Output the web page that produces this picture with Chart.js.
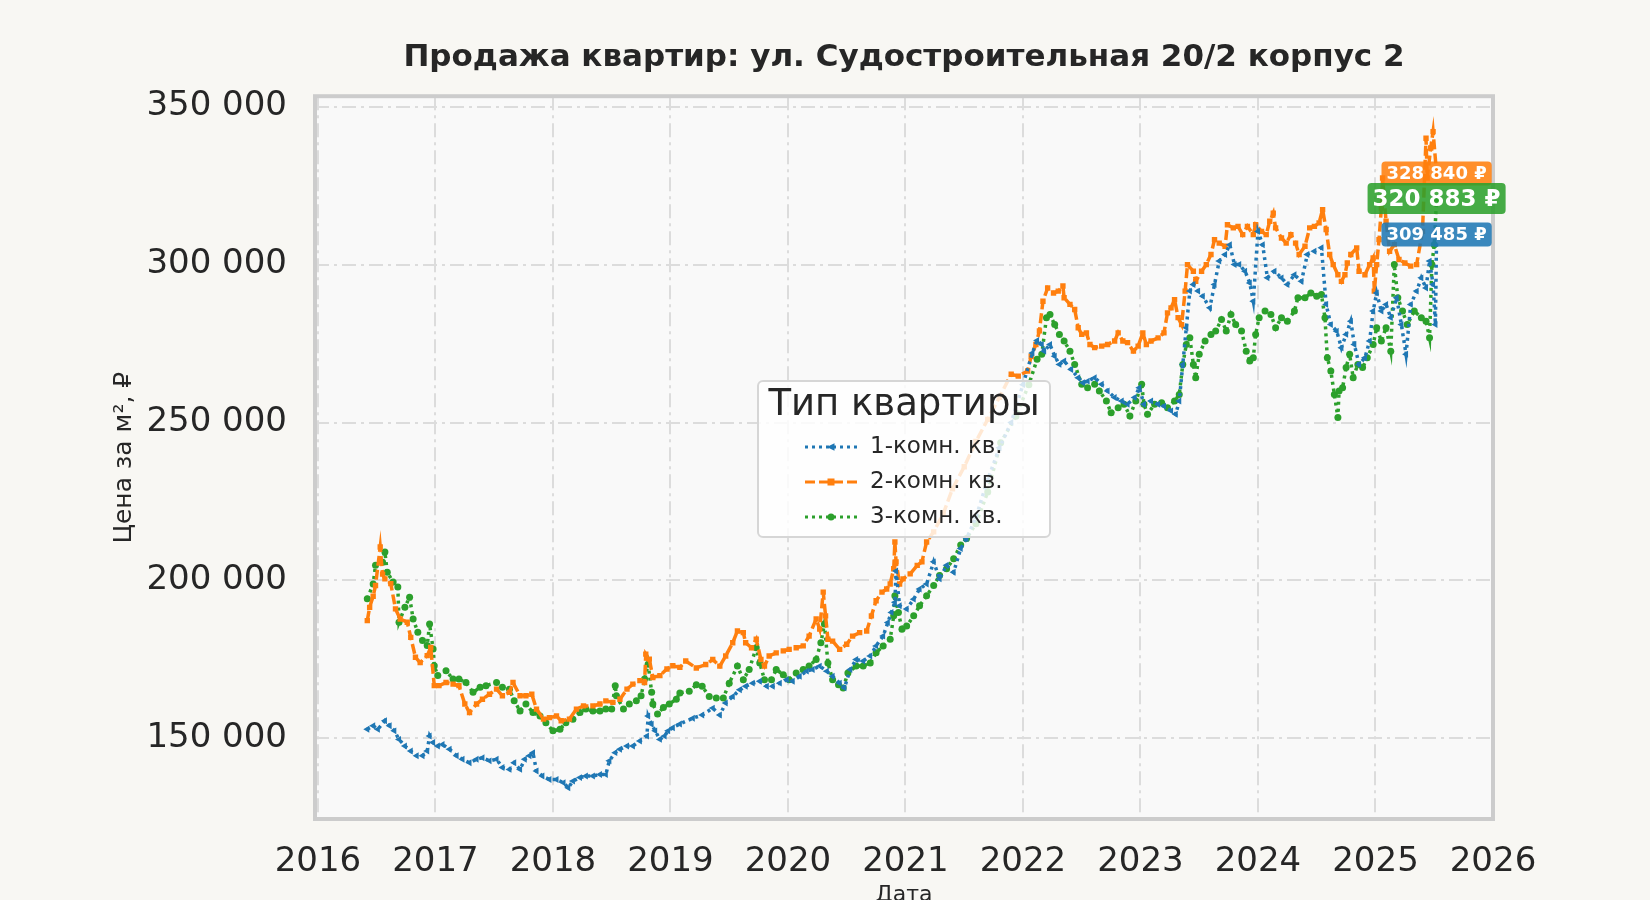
<!DOCTYPE html>
<html lang="ru">
<head>
<meta charset="utf-8">
<title>Продажа квартир: ул. Судостроительная 20/2 корпус 2</title>
<script src="https://cdn.jsdelivr.net/npm/chart.js@4.4.1/dist/chart.umd.min.js"></script>
<style>
    html, body { margin: 0; padding: 0; background: #f8f7f3; }
    canvas { display: block; }
</style>
</head>
<body>
<canvas id="priceChart" width="1650" height="900"></canvas>
<script>
// ticks
const yearTicks = [2016, 2017, 2018, 2019, 2020, 2021, 2022, 2023, 2024, 2025, 2026];
const priceTicks = [150000, 200000, 250000, 300000, 350000];

const seriesNames = ["1-комн. кв.", "2-комн. кв.", "3-комн. кв."];

// 1-комн. кв. (decimal year / price per m2)
const dates1 = [2016.42,2016.47,2016.51,2016.57,2016.61,2016.65,2016.69,2016.74,2016.79,2016.84,2016.89,2016.93,2016.95,2016.98,
    2017.02,2017.06,2017.12,2017.18,2017.23,2017.29,2017.35,2017.40,2017.46,2017.52,2017.57,2017.63,2017.67,2017.72,2017.76,2017.80,2017.83,2017.86,2017.91,2017.97,
    2018.03,2018.09,2018.13,2018.17,2018.23,2018.28,2018.34,2018.40,2018.45,2018.48,2018.53,2018.57,2018.63,2018.68,2018.74,2018.80,2018.81,2018.84,2018.87,2018.91,2018.95,2018.98,
    2019.02,2019.08,2019.19,2019.27,2019.36,2019.42,2019.47,2019.53,2019.59,2019.64,2019.70,2019.76,2019.82,2019.87,2019.93,2019.99,
    2020.04,2020.10,2020.16,2020.21,2020.27,2020.33,2020.38,2020.44,2020.48,2020.53,2020.58,2020.64,2020.70,2020.75,2020.81,2020.85,2020.88,2020.91,2020.92,2020.95,
    2021.01,2021.07,2021.12,2021.18,2021.24,2021.29,2021.35,2021.41,2021.47,2021.52,2021.60,2021.70,2021.80,2021.90,2022.00,2022.08,2022.12,
    2022.16,2022.18,2022.23,2022.27,2022.31,2022.35,2022.41,2022.47,2022.51,2022.55,2022.61,2022.67,2022.72,2022.78,2022.84,2022.89,2022.95,2022.99,
    2023.03,2023.09,2023.15,2023.20,2023.26,2023.30,2023.33,2023.36,2023.39,2023.42,2023.45,2023.49,2023.53,2023.59,2023.63,2023.67,2023.72,2023.76,2023.80,2023.84,2023.89,2023.93,2023.96,
    2024.00,2024.04,2024.08,2024.14,2024.20,2024.25,2024.31,2024.37,2024.42,2024.48,2024.54,2024.58,2024.62,2024.67,2024.71,2024.75,2024.79,2024.82,2024.86,2024.91,2024.95,2024.98,
    2025.01,2025.05,2025.09,2025.13,2025.18,2025.22,2025.26,2025.30,2025.35,2025.39,2025.43,2025.46,2025.49,2025.51,2025.52];
const prices1 = [152900,154000,152900,155600,154000,152400,149700,147600,146000,144500,144500,146000,150800,148700,
    147600,148100,146600,144500,143400,142300,143400,143900,142900,143400,140800,140200,142300,140200,143400,144500,145500,139700,138100,137000,
    137000,136000,134400,136500,137600,138100,138100,138600,138600,142900,145500,146600,147600,147600,149200,150800,157100,154500,152400,149700,150800,152400,
    153400,154600,156400,157400,159600,157400,161200,163300,165400,166500,167500,168100,166500,166500,167500,168600,
    168100,169700,171300,171800,172900,171300,169700,167500,166000,171800,175000,174500,176100,179300,182400,186700,189900,193100,203000,192000,
    191000,194100,197300,198900,205900,200500,204800,202600,210100,213300,220000,232000,242000,250000,262000,272000,276000,
    274700,272600,274700,271000,268400,269500,266800,264200,262600,263100,264200,262100,260000,257900,256800,255800,257900,261000,
    255800,256800,255800,255200,253700,252600,256800,268400,280000,291600,293700,291600,290000,286300,293700,301100,303200,306300,300000,300000,297900,294200,288400,
    310500,306300,295800,297900,295800,293700,296800,294700,303200,304200,305300,287400,281000,278900,273700,277900,282100,274700,268400,270500,275800,285300,
    291000,285300,287400,283200,289500,281000,271600,287400,291600,295800,292600,301100,293700,281000,309485];

// 2-комн. кв.
const dates2 = [2016.42,2016.44,2016.47,2016.49,2016.53,2016.55,2016.57,2016.62,2016.66,2016.70,2016.76,2016.79,2016.83,2016.87,2016.93,2016.96,2016.99,
    2017.03,2017.09,2017.15,2017.20,2017.25,2017.29,2017.35,2017.40,2017.46,2017.52,2017.57,2017.63,2017.66,2017.72,2017.77,2017.82,2017.86,2017.92,2017.97,
    2018.03,2018.07,2018.14,2018.20,2018.26,2018.34,2018.40,2018.45,2018.51,2018.57,2018.63,2018.68,2018.74,2018.78,2018.79,2018.82,2018.85,2018.91,2018.97,
    2019.02,2019.08,2019.13,2019.22,2019.30,2019.36,2019.42,2019.47,2019.53,2019.57,2019.62,2019.64,2019.69,2019.73,2019.77,2019.80,2019.84,2019.90,2019.96,
    2020.01,2020.07,2020.13,2020.18,2020.24,2020.27,2020.30,2020.32,2020.34,2020.38,2020.44,2020.50,2020.55,2020.61,2020.67,2020.71,2020.75,2020.80,2020.84,2020.87,2020.90,2020.91,2020.92,2020.95,2020.98,
    2021.04,2021.10,2021.14,2021.18,2021.24,2021.32,2021.40,2021.50,2021.60,2021.70,2021.80,2021.90,2021.96,
    2022.04,2022.07,2022.11,2022.14,2022.17,2022.21,2022.26,2022.30,2022.34,2022.35,2022.40,2022.44,2022.47,2022.50,2022.54,2022.57,2022.61,2022.67,2022.72,2022.78,2022.81,2022.85,2022.89,2022.94,2022.98,
    2023.02,2023.05,2023.09,2023.15,2023.20,2023.23,2023.26,2023.29,2023.32,2023.35,2023.38,2023.40,2023.45,2023.47,2023.52,2023.56,2023.60,2023.63,2023.67,2023.72,2023.74,2023.79,2023.83,2023.87,2023.91,2023.96,2023.98,
    2024.03,2024.07,2024.10,2024.13,2024.15,2024.20,2024.24,2024.28,2024.32,2024.35,2024.40,2024.44,2024.48,2024.52,2024.55,2024.58,2024.61,2024.64,2024.68,2024.71,2024.74,2024.76,2024.79,2024.84,2024.86,2024.91,2024.95,2024.98,2024.99,
    2025.01,2025.03,2025.05,2025.06,2025.09,2025.12,2025.16,2025.20,2025.25,2025.30,2025.35,2025.40,2025.43,2025.44,2025.47,2025.49,2025.52];
const prices2 = [187300,191500,195000,198400,210600,202000,200500,199000,191000,187800,186800,182000,175700,174000,176200,178800,166700,
    166700,167700,167200,166700,160900,158200,160900,162400,164000,165600,163500,164600,167700,163500,163500,164000,159300,156100,156600,
    157100,155600,156100,159300,160300,160300,160900,161900,161400,162400,165600,167200,168300,167700,176700,175100,169300,169900,172000,
    173000,172500,174500,172300,173400,175000,172900,176100,180300,184000,183500,180300,178700,181400,175000,172900,176100,177100,177700,
    178200,178700,179300,182400,187800,184600,196300,188800,181400,180800,178200,179800,182400,183500,184000,188800,193600,196300,197300,198900,203700,212200,205900,198900,200500,
    202100,204800,205900,212200,215400,221000,229000,236000,244000,251000,258000,265300,264700,
    266300,271000,274700,279000,288400,292600,291000,291600,293200,289500,287400,285800,280000,277900,278400,274700,273700,274200,274700,275800,278400,275800,275300,272600,274200,
    278400,274700,275800,276800,278400,284700,286300,288900,283200,281000,291600,300000,297900,294700,297900,300000,303200,307900,306800,305800,312600,311600,312100,309500,312100,309500,312600,
    310500,309500,313700,316300,311600,308400,306800,309500,306800,303200,305800,311600,312100,313200,317400,311100,303200,300000,296800,294700,296800,300500,303200,305300,297900,296800,300000,302100,291600,
    300000,307900,317900,327400,313700,304200,306300,301600,300500,299500,300000,310500,340000,327400,336900,342100,328840];

// 3-комн. кв.
const dates3 = [2016.42,2016.47,2016.49,2016.55,2016.57,2016.59,2016.64,2016.68,2016.69,2016.74,2016.78,2016.81,2016.85,2016.89,2016.93,2016.95,2016.98,2016.99,
    2017.02,2017.09,2017.15,2017.20,2017.26,2017.32,2017.38,2017.43,2017.52,2017.57,2017.63,2017.67,2017.72,2017.77,2017.83,2017.89,2017.94,
    2018.00,2018.06,2018.11,2018.17,2018.23,2018.28,2018.34,2018.40,2018.45,2018.50,2018.53,2018.54,2018.60,2018.65,2018.71,2018.75,2018.78,2018.81,2018.84,2018.85,2018.89,2018.94,2018.99,
    2019.05,2019.08,2019.16,2019.22,2019.27,2019.33,2019.39,2019.45,2019.50,2019.57,2019.62,2019.67,2019.73,2019.76,2019.80,2019.86,2019.90,2019.96,
    2020.01,2020.07,2020.13,2020.18,2020.24,2020.28,2020.31,2020.34,2020.38,2020.43,2020.47,2020.51,2020.58,2020.64,2020.70,2020.75,2020.81,2020.87,2020.90,2020.91,2020.94,2020.97,
    2021.01,2021.07,2021.12,2021.18,2021.24,2021.29,2021.35,2021.41,2021.47,2021.52,2021.60,2021.70,2021.81,2021.94,2022.05,2022.12,
    2022.16,2022.20,2022.23,2022.27,2022.31,2022.35,2022.40,2022.44,2022.50,2022.55,2022.61,2022.65,2022.71,2022.75,2022.81,2022.86,2022.91,2022.96,
    2023.01,2023.03,2023.06,2023.12,2023.18,2023.23,2023.29,2023.33,2023.36,2023.39,2023.42,2023.45,2023.47,2023.50,2023.55,2023.60,2023.64,2023.69,2023.73,2023.77,2023.81,2023.86,2023.90,2023.93,2023.96,2023.98,
    2024.01,2024.06,2024.11,2024.15,2024.20,2024.25,2024.31,2024.34,2024.40,2024.45,2024.50,2024.54,2024.57,2024.59,2024.62,2024.65,2024.68,2024.69,2024.72,2024.75,2024.78,2024.81,2024.85,2024.89,2024.93,2024.98,
    2025.01,2025.05,2025.09,2025.13,2025.16,2025.19,2025.23,2025.27,2025.33,2025.39,2025.43,2025.46,2025.48,2025.50,2025.52];
const prices3 = [194200,198900,204800,205800,209000,202600,199500,197900,186800,191500,194700,187800,183600,181000,179400,186200,178300,173000,
    169900,171400,168800,168800,167700,164600,166200,166700,167700,166200,165600,161900,158700,160900,158200,157100,155000,
    152400,152900,155000,156100,158200,159300,158700,158700,159300,159300,166700,163500,159300,160900,161900,163500,168800,173500,164600,160900,157700,159800,160900,
    162400,164400,164900,167000,166500,163300,162800,162800,167500,172900,168600,171800,178700,173900,168600,168600,171800,170200,
    168600,170700,171800,172900,175000,180300,186200,173900,168600,167000,166000,170700,172900,172900,173900,177100,179300,181400,188800,195200,189900,184600,
    185600,188800,192000,195200,198400,201600,203700,206900,211200,213300,218000,228000,243600,252000,262000,270000,
    271600,283200,284200,281000,277900,275800,272600,268400,262100,261000,262100,260000,256800,253100,254700,255800,252100,256800,
    262100,255800,252600,255800,256300,254700,256800,258900,268400,274700,276800,268400,264200,271600,275800,277900,279000,282600,279000,284200,281000,279000,272600,269500,270500,277900,
    283200,285300,284200,280000,283200,282100,285300,289500,289500,291000,290000,290500,283200,270500,266300,258900,251600,260000,261000,267400,271600,264200,268400,267400,270500,274700,
    280000,275800,280000,272600,300000,289500,285300,281000,285300,283200,282100,276800,300000,306300,320883];

const colors = ["#1f77b4", "#ff7f0e", "#2ca02c"];
const textColor = "#262626";
const fontFamily = "'DejaVu Sans', sans-serif";

function toPoints(dates, prices) {
    return dates.map((d, i) => ({ x: d, y: prices[i] }));
}

function formatPrice(v) {
    return String(Math.round(v)).replace(/\B(?=(\d{3})+(?!\d))/g, " ");
}

// plot background + frame
const plotFrame = {
    id: "plotFrame",
    beforeDraw(chart) {
        const { ctx, chartArea: a } = chart;
        ctx.save();
        ctx.fillStyle = "#f9f9f9";
        ctx.fillRect(a.left, a.top, a.right - a.left, a.bottom - a.top);
        ctx.restore();
    },
    afterDatasetsDraw(chart) {
        const { ctx, chartArea: a } = chart;
        ctx.save();
        ctx.strokeStyle = "#cccccc";
        ctx.lineWidth = 4;
        ctx.strokeRect(a.left, a.top, a.right - a.left, a.bottom - a.top);
        ctx.restore();
    }
};

function drawMarker(ctx, style, x, y, r) {
    ctx.beginPath();
    if (style === "rect") {
        ctx.rect(x - r, y - r, 2 * r, 2 * r);
    } else if (style === "triangle") {
        ctx.moveTo(x - r * 1.2, y);
        ctx.lineTo(x + r, y - r * 1.1);
        ctx.lineTo(x + r, y + r * 1.1);
        ctx.closePath();
    } else {
        ctx.arc(x, y, r, 0, Math.PI * 2);
    }
    ctx.fill();
}

// legend box in the middle of the plot
const boxLegend = {
    id: "boxLegend",
    afterDraw(chart) {
        const ctx = chart.ctx;
        const x0 = 758, y0 = 381, w = 292, h = 156;
        ctx.save();
        ctx.beginPath();
        ctx.roundRect(x0, y0, w, h, 5);
        ctx.fillStyle = "rgba(255, 255, 255, 0.82)";
        ctx.fill();
        ctx.strokeStyle = "#d6d6d6";
        ctx.lineWidth = 2;
        ctx.stroke();

        ctx.fillStyle = textColor;
        ctx.textAlign = "center";
        ctx.textBaseline = "middle";
        ctx.font = "37px " + fontFamily;
        ctx.fillText("Тип квартиры", x0 + w / 2, y0 + 24);

        chart.data.datasets.forEach((ds, i) => {
            const ry = y0 + 66 + i * 35;
            ctx.strokeStyle = ds.borderColor;
            ctx.lineWidth = 3;
            ctx.setLineDash(ds.borderDash);
            ctx.beginPath();
            ctx.moveTo(805, ry);
            ctx.lineTo(858, ry);
            ctx.stroke();
            ctx.setLineDash([]);
            ctx.fillStyle = ds.borderColor;
            drawMarker(ctx, ds.pointStyle, 831, ry, 3.5);

            ctx.fillStyle = textColor;
            ctx.textAlign = "left";
            ctx.font = "23px " + fontFamily;
            ctx.fillText(ds.label, 870, ry);
        });
        ctx.restore();
    }
};

// last value labels at the right end
const lastValueLabels = {
    id: "lastValueLabels",
    afterDraw(chart) {
        const { ctx, scales } = chart;
        const order = [1, 0, 2];
        ctx.save();
        order.forEach(i => {
            const data = chart.data.datasets[i].data;
            const last = data[data.length - 1];
            const px = scales.x.getPixelForValue(last.x);
            const py = scales.y.getPixelForValue(last.y);
            const big = i === 2;
            const size = big ? 23 : 18;
            ctx.font = "bold " + size + "px " + fontFamily;
            const text = formatPrice(last.y) + " ₽";
            const tw = ctx.measureText(text).width;
            const bw = tw + 10;
            const bh = big ? 31 : 24;
            ctx.globalAlpha = 0.88;
            ctx.fillStyle = colors[i];
            ctx.beginPath();
            ctx.roundRect(px - bw / 2, py - bh / 2, bw, bh, 4);
            ctx.fill();
            ctx.globalAlpha = 1;
            ctx.fillStyle = "#ffffff";
            ctx.textAlign = "center";
            ctx.textBaseline = "middle";
            ctx.fillText(text, px, py + 1);
        });
        ctx.restore();
    }
};

const ctx = document.getElementById("priceChart").getContext("2d");

const priceChart = new Chart(ctx, {
    type: "line",
    data: {
        datasets: [
            {
                label: seriesNames[0],
                data: toPoints(dates1, prices1),
                borderColor: colors[0],
                backgroundColor: colors[0],
                borderWidth: 3.5,
                borderDash: [3, 4],
                pointStyle: "triangle",
                pointRotation: -90,
                pointRadius: 4,
                pointBorderWidth: 0,
                tension: 0,
            },
            {
                label: seriesNames[1],
                data: toPoints(dates2, prices2),
                borderColor: colors[1],
                backgroundColor: colors[1],
                borderWidth: 3.5,
                borderDash: [10, 4],
                pointStyle: "rect",
                pointRadius: 3.8,
                pointBorderWidth: 0,
                tension: 0,
            },
            {
                label: seriesNames[2],
                data: toPoints(dates3, prices3),
                borderColor: colors[2],
                backgroundColor: colors[2],
                borderWidth: 3.5,
                borderDash: [3, 4],
                pointStyle: "circle",
                pointRadius: 3.5,
                pointBorderWidth: 0,
                tension: 0,
            },
        ],
    },
    options: {
        responsive: false,
        devicePixelRatio: 1,
        animation: false,
        layout: { padding: { left: 0, right: 157, top: 0, bottom: 0 } },
        plugins: {
            legend: { display: false },
            tooltip: { enabled: false },
            title: {
                display: true,
                fullSize: false,
                text: "Продажа квартир: ул. Судостроительная 20/2 корпус 2",
                color: textColor,
                font: { family: fontFamily, size: 31, weight: "bold", lineHeight: 1.2 },
                padding: { top: 39, bottom: 20 },
            },
        },
        scales: {
            x: {
                type: "linear",
                min: 2015.975,
                max: 2026,
                afterBuildTicks(scale) {
                    scale.ticks = yearTicks.map(v => ({ value: v }));
                },
                afterFit(scale) { scale.height = 81; },
                ticks: {
                    autoSkip: false,
                    maxRotation: 0,
                    padding: 23,
                    color: textColor,
                    font: { family: fontFamily, size: 34 },
                    callback: v => String(v),
                },
                grid: { color: "#dcdcdc", lineWidth: 2, drawTicks: false },
                border: { display: false, dash: [14, 5, 3, 5] },
                title: {
                    display: true,
                    text: "Дата",
                    color: textColor,
                    font: { family: fontFamily, size: 22, lineHeight: 0.4 },
                    padding: 0,
                },
            },
            y: {
                type: "linear",
                min: 124500,
                max: 353300,
                afterBuildTicks(scale) {
                    scale.ticks = priceTicks.map(v => ({ value: v }));
                },
                afterFit(scale) { scale.width = 315; },
                ticks: {
                    autoSkip: false,
                    padding: 28,
                    color: textColor,
                    font: { family: fontFamily, size: 34 },
                    callback: v => formatPrice(v),
                },
                grid: { color: "#dcdcdc", lineWidth: 2, drawTicks: false },
                border: { display: false, dash: [14, 5, 3, 5] },
                title: {
                    display: true,
                    text: "Цена за м², ₽",
                    color: textColor,
                    font: { family: fontFamily, size: 25, lineHeight: 1.2 },
                    padding: { top: 109, bottom: 0 },
                },
            },
        },
    },
    plugins: [plotFrame, boxLegend, lastValueLabels],
});
</script>
</body>
</html>
